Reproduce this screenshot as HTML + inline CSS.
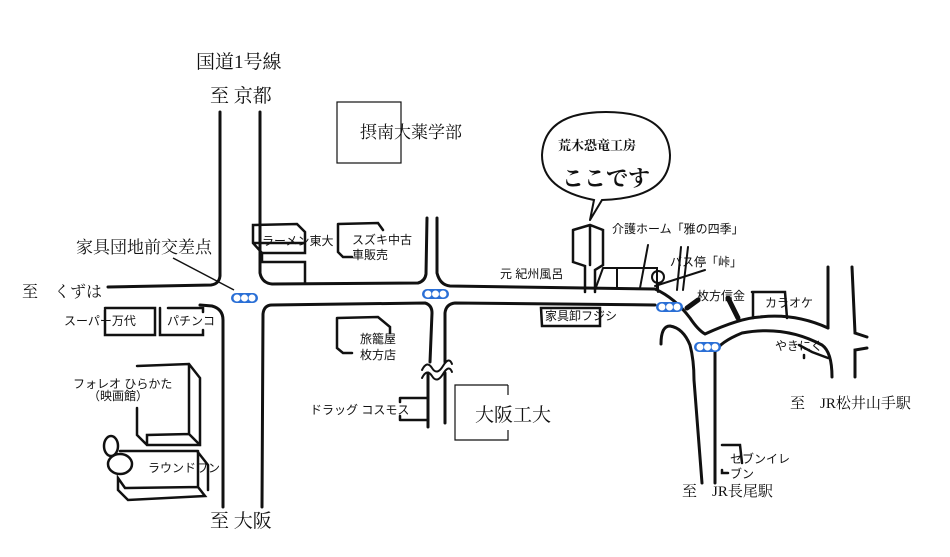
<!DOCTYPE html>
<html><head><meta charset="utf-8"><style>
html,body{margin:0;padding:0;background:#fff}
svg{display:block}
text{font-family:"Liberation Serif","Noto Serif CJK SC","Noto Sans CJK JP",serif;fill:#111}
.s{font-family:"Liberation Sans","Noto Sans CJK JP",sans-serif;font-size:12px}
</style></head><body>
<svg width="950" height="557" viewBox="0 0 950 557" xmlns="http://www.w3.org/2000/svg">
<g fill="none" stroke="#111" stroke-width="3" stroke-linecap="round">
<!-- road A north -->
<path d="M220 112 L220 276 Q219 284 211 285 L108 287"/>
<path d="M260 112 L260 273 Q262 283 272 284 L418 283 Q425 281 426 274 L427 218"/>
<path d="M437 218 L437 273 Q440 285 450 286 L655 289 Q675 298 690 318 Q698 330 705 334 Q740 318 760 317 Q795 313 828 328"/>
<!-- lower left -->
<path d="M200 305 L212 306 Q223 309 223 320 L223 507"/>
<path d="M262 507 L263 314 Q264 305 272 305 L425 303 Q432 305 432 313 L430 362"/>
<path d="M428 373 L428 427"/>
<path d="M445 362 L445 313 Q446 304 455 303 L655 305"/>
<path d="M445 373 L445 423"/>
<path d="M422 370 Q427 360 432 368 T443 366 T452 364" stroke-width="2"/>
<path d="M422 378 Q427 368 432 376 T443 374 T452 372" stroke-width="2"/>
<!-- right -->
<path d="M661 344 Q661 326 670 326 Q683 328 690 345 Q694 360 694 380 L702 483"/>
<path d="M715 483 L715 352 Q720 342 742 333 Q785 325 822 345 Q832 352 832 377"/>
<path d="M828 267 L828 328"/>
<path d="M852 267 L855 333 L867 337"/>
<path d="M867 348 L855 350 L855 377"/>
<!-- buildings -->
<path d="M253 225 L297 224 L305 232 L305 253 L262 253 L253 243 Z M253 243 L305 243" stroke-width="2.5"/>
<path d="M262 253 L262 262 L305 262 L305 283" stroke-width="2.5"/>
<path d="M338 224 L378 223 L383 230 M338 224 L338 252 L343 257 L352 257" stroke-width="2.5"/>
<path d="M337 318 L378 317 L390 327 L390 333 M337 318 L337 348 L343 353 L352 353" stroke-width="2.5"/>
<path d="M105 308 L155 308 L155 335 L105 335 L105 310 M160 308 L160 335 L203 335 L203 330 M168 308 L203 308 L203 312" stroke-width="2.5"/>
<path d="M137 366 L189 364 L200 378 L200 445 L147 445 L137 435 L137 408 M147 445 L147 435 L189 434 L200 445 M189 364 L189 434" stroke-width="2.5"/>
<path d="M120 451 L197 451 L208 465 L208 490 M118 478 L118 490 L128 500 L205 496 L198 487 L125 488 Z M198 451 L198 487" stroke-width="2.5"/>
<path d="M400 398 L428 398 M400 420 L428 420 M400 398 L400 402 M400 420 L400 416" stroke-width="2.5"/>
<!-- our building -->
<path d="M573 230 L590 225 L603 230 L603 265 L595 270 L595 292 M573 230 L573 262 L585 266 L585 292 M590 225 L590 265" stroke-width="2.5"/>
<path d="M603 268 L657 268 L657 288 M617 268 L617 288 M640 288 L648 245 M595 290 L603 268" stroke-width="2"/>
<path d="M681 247 L677 290 M688 247 L683 290 M655 286 L705 270" stroke-width="2"/>
<path d="M541 308 L600 308 L600 326 L542 326 Z" stroke-width="2.5"/>
<path d="M687 308 L698 300" stroke-width="5"/>
<path d="M728 298 L738 318" stroke-width="5"/>
<path d="M752 292 L785 292 L787 318 M753 292 L753 318" stroke-width="2.5"/>
<path d="M799 345 L812 352 L828 358 M804 355 L804 358" stroke-width="2.5"/>
<path d="M722 445 L740 445 L742 463 M722 470 L722 473 L728 473" stroke-width="2.5"/>
<path d="M590 220 L594 200 Q542 190 542 155 Q544 112 606 112 Q668 112 670 155 Q670 198 602 200 L590 220" stroke-width="2"/>
<circle cx="658" cy="277" r="6" stroke-width="2"/><path d="M658 283 L658 292" stroke-width="2"/>
<ellipse cx="111" cy="446" rx="7" ry="10" stroke-width="2.5"/>
<ellipse cx="120" cy="464" rx="12" ry="10" stroke-width="2.5"/>
</g>
<line x1="173" y1="258" x2="234" y2="290" stroke="#111" stroke-width="1.5"/>
<g fill="none" stroke="#111" stroke-width="1.2">
<rect x="337" y="102" width="64" height="61"/>
<path d="M508 385 L455 385 L455 440 L508 440 L508 430 M508 385 L508 395"/>
</g>
<!-- traffic lights -->
<g>
<rect x="231" y="293" width="27" height="10" rx="5" fill="#2a6fd6"/>
<rect x="422" y="289" width="27" height="10" rx="5" fill="#2a6fd6"/>
<rect x="656" y="302" width="27" height="10" rx="5" fill="#2a6fd6"/>
<rect x="694" y="342" width="27" height="10" rx="5" fill="#2a6fd6"/>
<g fill="#fff">
<circle cx="237" cy="298" r="3.5"/><circle cx="244.5" cy="298" r="3.5"/><circle cx="252" cy="298" r="3.5"/>
<circle cx="428" cy="294" r="3.5"/><circle cx="435.5" cy="294" r="3.5"/><circle cx="443" cy="294" r="3.5"/>
<circle cx="662" cy="307" r="3.5"/><circle cx="669.5" cy="307" r="3.5"/><circle cx="677" cy="307" r="3.5"/>
<circle cx="700" cy="347" r="3.5"/><circle cx="707.5" cy="347" r="3.5"/><circle cx="715" cy="347" r="3.5"/>
</g></g>
<text x="196" y="68" font-size="19">国道1号線</text>
<text x="210" y="102" font-size="19">至 京都</text>
<text x="360" y="138" font-size="17">摂南大薬学部</text>
<text x="558" y="150" font-size="13" font-weight="bold" font-family="Liberation Sans,Noto Sans CJK JP,sans-serif">荒木恐竜工房</text>
<text x="562" y="186" font-size="22" font-weight="bold" font-family="Liberation Sans,Noto Sans CJK JP,sans-serif">ここです</text>
<text x="76" y="253" font-size="17">家具団地前交差点</text>
<text x="22" y="297" font-size="16">至　くずは</text>
<text x="210" y="527" font-size="19">至 大阪</text>
<text x="790" y="408" font-size="15">至　JR松井山手駅</text>
<text x="682" y="496" font-size="15">至　JR長尾駅</text>
<text x="475" y="421" font-size="19">大阪工大</text>
<text class="s" x="262" y="245">ラーメン東大</text>
<text class="s" x="352" y="244">スズキ中古</text>
<text class="s" x="352" y="259">車販売</text>
<text class="s" x="360" y="343">旅籠屋</text>
<text class="s" x="360" y="359">枚方店</text>
<text class="s" x="310" y="414" font-size="11">ドラッグ コスモス</text>
<text class="s" x="64" y="325">スーパー万代</text>
<text class="s" x="167" y="325">パチンコ</text>
<text class="s" x="73" y="388" font-size="11">フォレオ ひらかた</text>
<text class="s" x="88" y="400" font-size="11">（映画館）</text>
<text class="s" x="148" y="472" font-size="11">ラウンドワン</text>
<text class="s" x="612" y="233" font-size="11">介護ホーム「雅の四季」</text>
<text class="s" x="500" y="278">元 紀州風呂</text>
<text class="s" x="670" y="266">バス停「峠」</text>
<text class="s" x="545" y="320">家具卸フジシ</text>
<text class="s" x="697" y="300" font-size="11">枚方信金</text>
<text class="s" x="765" y="307">カラオケ</text>
<text class="s" x="775" y="350" font-size="11">やきにく</text>
<text class="s" x="730" y="463" font-size="11">セブンイレ</text>
<text class="s" x="730" y="478" font-size="11">ブン</text>
</svg>
</body></html>
